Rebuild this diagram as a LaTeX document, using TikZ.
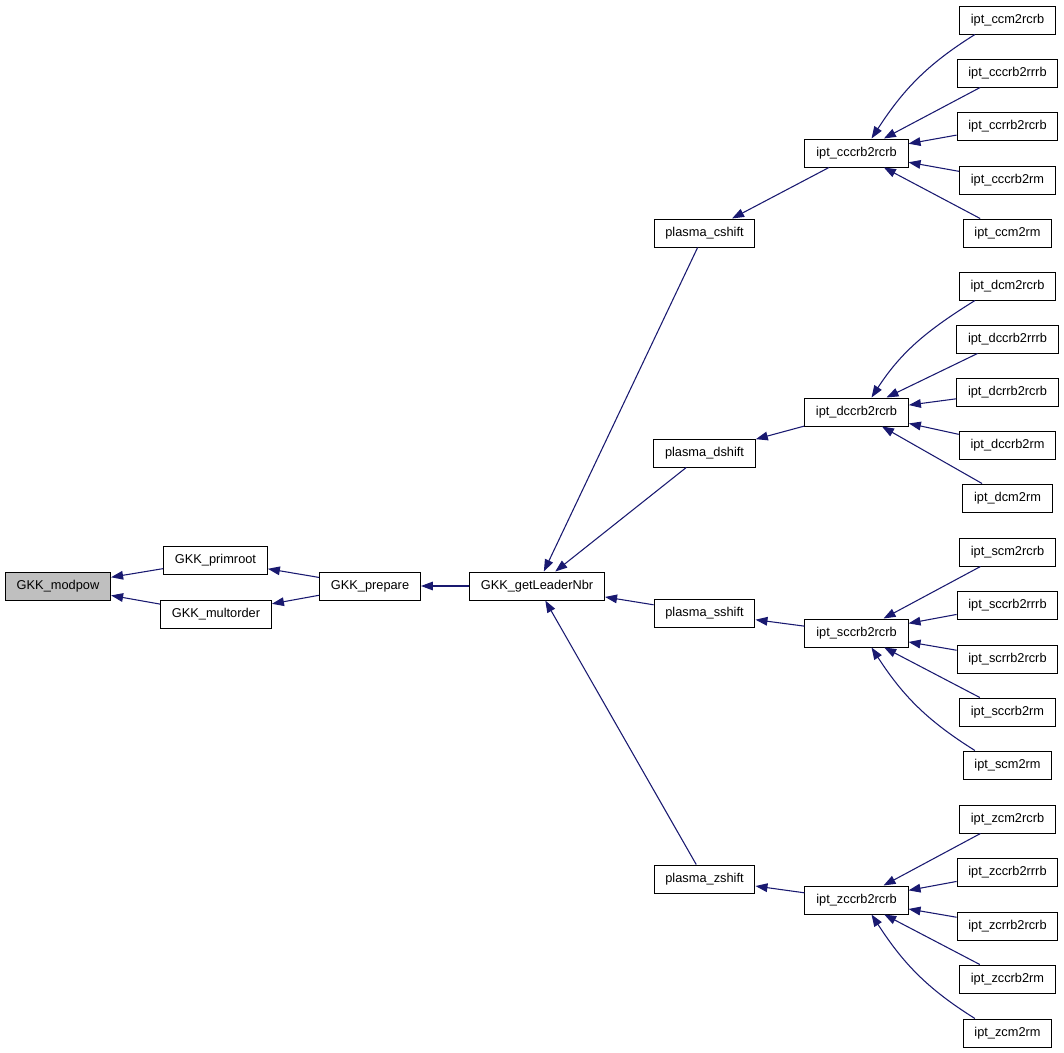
\documentclass[tikz,border=0pt]{standalone}
\usepackage{fontspec}
\setmainfont{Liberation Sans}
\usetikzlibrary{arrows.meta, positioning}
\definecolor{edgeblue}{HTML}{191970}
\definecolor{curgray}{HTML}{BFBFBF}

\begin{document}
\begin{tikzpicture}[
    x=0.75pt, y=-0.75pt,
    func/.style={rectangle, draw=black, fill=#1, line width=0.75pt, minimum height=21pt, inner xsep=8.5pt, inner ysep=0pt, font=\fontsize{9.6}{11}\selectfont},
    func/.default=white,
    arrow/.style={-{Triangle[length=9pt, width=6.5pt]}, line width=0.8pt, color=edgeblue}
]
\useasboundingbox (0,0) rectangle (1064,1053);

\node[func=curgray] (modpow) at (58,586) {GKK\_modpow};
\node[func] (primroot) at (215.5,560) {GKK\_primroot};
\node[func] (multorder) at (216,614) {GKK\_multorder};
\node[func] (prepare) at (370,586) {GKK\_prepare};
\node[func] (leader) at (537,586) {GKK\_getLeaderNbr};

\node[func] (cshift) at (704.5,233) {plasma\_cshift};
\node[func] (dshift) at (704.5,453) {plasma\_dshift};
\node[func] (sshift) at (704.5,613) {plasma\_sshift};
\node[func] (zshift) at (704.5,879) {plasma\_zshift};

\node[func] (cccrb) at (856.5,153) {ipt\_cccrb2rcrb};
\node[func] (dccrb) at (856.5,412) {ipt\_dccrb2rcrb};
\node[func] (sccrb) at (856.5,633) {ipt\_sccrb2rcrb};
\node[func] (zccrb) at (856.5,900) {ipt\_zccrb2rcrb};

\node[func] (ccmrcrb) at (1007.5,20) {ipt\_ccm2rcrb};
\node[func] (cccrbrrrb) at (1007.5,73) {ipt\_cccrb2rrrb};
\node[func] (ccrrbrcrb) at (1007.5,126) {ipt\_ccrrb2rcrb};
\node[func] (cccrbrm) at (1007.5,180) {ipt\_cccrb2rm};
\node[func] (ccmrm) at (1007.5,233) {ipt\_ccm2rm};

\node[func] (dcmrcrb) at (1007.5,286) {ipt\_dcm2rcrb};
\node[func] (dccrbrrrb) at (1007.5,339) {ipt\_dccrb2rrrb};
\node[func] (dcrrbrcrb) at (1007.5,392) {ipt\_dcrrb2rcrb};
\node[func] (dccrbrm) at (1007.5,445) {ipt\_dccrb2rm};
\node[func] (dcmrm) at (1007.5,498) {ipt\_dcm2rm};

\node[func] (scmrcrb) at (1007.5,552) {ipt\_scm2rcrb};
\node[func] (sccrbrrrb) at (1007.5,605) {ipt\_sccrb2rrrb};
\node[func] (scrrbrcrb) at (1007.5,659) {ipt\_scrrb2rcrb};
\node[func] (sccrbrm) at (1007.5,712) {ipt\_sccrb2rm};
\node[func] (scmrm) at (1007.5,765) {ipt\_scm2rm};

\node[func] (zcmrcrb) at (1007.5,819) {ipt\_zcm2rcrb};
\node[func] (zccrbrrrb) at (1007.5,872) {ipt\_zccrb2rrrb};
\node[func] (zcrrbrcrb) at (1007.5,926) {ipt\_zcrrb2rcrb};
\node[func] (zccrbrm) at (1007.5,979) {ipt\_zccrb2rm};
\node[func] (zcmrm) at (1007.5,1033) {ipt\_zcm2rm};

\draw[arrow] (primroot) -- (modpow);
\draw[arrow] (multorder) -- (modpow);
\draw[arrow] (prepare) -- (primroot);
\draw[arrow] (prepare) -- (multorder);
\draw[arrow] (leader) -- (prepare);

\draw[arrow] (cshift) -- (leader);
\draw[arrow] (dshift) -- (leader);
\draw[arrow] (sshift) -- (leader);
\draw[arrow] (zshift) -- (leader);

\draw[arrow] (cccrb) -- (cshift);
\draw[arrow] (dccrb) -- (dshift);
\draw[arrow] (sccrb) -- (sshift);
\draw[arrow] (zccrb) -- (zshift);

% callees of the four ipt_*ccrb2rcrb
\draw[arrow] (ccmrcrb.204) to[out=212, in=57] (cccrb.44);
\draw[arrow] (cccrbrrrb) -- (cccrb);
\draw[arrow] (ccrrbrcrb) -- (cccrb);
\draw[arrow] (cccrbrm) -- (cccrb);
\draw[arrow] (ccmrm) -- (cccrb);

\draw[arrow] (dcmrcrb.204) to[out=212, in=57] (dccrb.44);
\draw[arrow] (dccrbrrrb) -- (dccrb);
\draw[arrow] (dcrrbrcrb) -- (dccrb);
\draw[arrow] (dccrbrm) -- (dccrb);
\draw[arrow] (dcmrm) -- (dccrb);

\draw[arrow] (scmrcrb) -- (sccrb);
\draw[arrow] (sccrbrrrb) -- (sccrb);
\draw[arrow] (scrrbrcrb) -- (sccrb);
\draw[arrow] (sccrbrm) -- (sccrb);
\draw[arrow] (scmrm.156) to[out=148, in=303] (sccrb.316);

\draw[arrow] (zcmrcrb) -- (zccrb);
\draw[arrow] (zccrbrrrb) -- (zccrb);
\draw[arrow] (zcrrbrcrb) -- (zccrb);
\draw[arrow] (zccrbrm) -- (zccrb);
\draw[arrow] (zcmrm.156) to[out=148, in=303] (zccrb.316);

\end{tikzpicture}
\end{document}
